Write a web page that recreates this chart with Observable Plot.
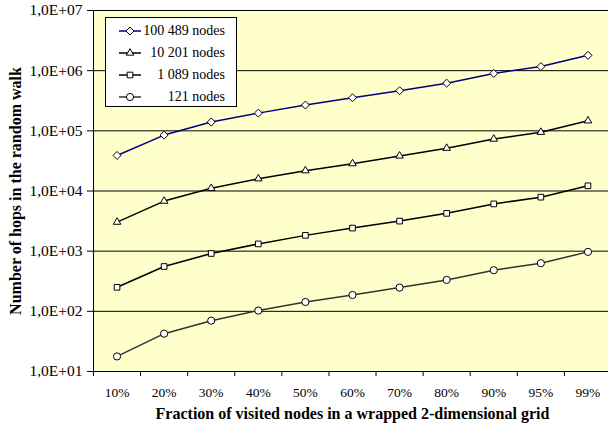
<!DOCTYPE html>
<html><head><meta charset="utf-8">
<script src="https://cdn.jsdelivr.net/npm/d3@7"></script>
<script src="https://cdn.jsdelivr.net/npm/@observablehq/plot@0.6"></script>
<style>
html,body{margin:0;padding:0;overflow:hidden;background:#fff;}
#wrap{position:relative;width:608px;height:434px;overflow:hidden;}
#wrap svg{max-width:none;}
.legend{position:absolute;left:105px;top:17px;width:130px;height:88px;border:1px solid #000;background:#fff;
  font-family:"Liberation Serif","Times New Roman",serif;font-size:14px;color:#000;}
.legend .row{position:absolute;left:0;right:0;height:22px;}
.legend .row svg{position:absolute;left:13px;top:5px;}
.legend .row span{position:absolute;right:11px;top:2px;line-height:18px;white-space:pre;}
</style></head><body><div id="wrap"></div>
<script>
const categories = ["10%","20%","30%","40%","50%","60%","70%","80%","90%","95%","99%"];
const seriesNames = ["100 489 nodes","10 201 nodes","1 089 nodes","121 nodes"];
const hops100489 = [39000, 85000, 140000, 197000, 268000, 355000, 464000, 620000, 900000, 1170000, 1800000];
const hops10201  = [3040, 6800, 11100, 16000, 21800, 28500, 38300, 51500, 73000, 95000, 147000];
const hops1089   = [251, 556, 916, 1320, 1830, 2420, 3160, 4250, 6100, 7900, 12200];
const hops121    = [17.8, 42.5, 70, 103, 143, 187, 248, 333, 482, 631, 973];
const yTicks = [1e1, 1e2, 1e3, 1e4, 1e5, 1e6, 1e7];
const xTitle = "Fraction of visited nodes in a wrapped 2-dimensional grid";
const yTitle = "Number of hops in the random walk";

const seriesValues = [hops100489, hops10201, hops1089, hops121];
const lineColors = ["#000080", "#000000", "#000000", "#333333"];
const symbols = ["diamond2", "triangle2", "square2", "circle"];

const data = [];
seriesNames.forEach((s, si) => {
  seriesValues[si].forEach((v, i) => data.push({series: s, idx: i + 0.5, cat: categories[i], value: v}));
});

const fmt = v => "1,0E+" + String(Math.round(Math.log10(v))).padStart(2, "0");

const chart = Plot.plot({
  width: 620, height: 434,
  marginLeft: 93, marginRight: 9, marginTop: 10, marginBottom: 63,
  style: {fontFamily: "'Liberation Serif','Times New Roman',serif", fontSize: "14px", background: "transparent", color: "#000"},
  x: {type: "linear", domain: [0, categories.length], axis: null},
  y: {type: "log", domain: [10, 1e7], axis: null},
  color: {domain: seriesNames, range: lineColors},
  symbol: {domain: seriesNames, range: symbols},
  marks: [
    Plot.frame({fill: "#ffffcc", stroke: "#808080"}),
    Plot.ruleY(yTicks, {stroke: "#000", strokeWidth: 1}),
    Plot.ruleX([0], {stroke: "#000", strokeWidth: 1}),
    Plot.axisY({ticks: yTicks, tickFormat: fmt, tickSize: 6, tickPadding: 5, fontSize: 15.5, label: null, stroke: "#000"}),
    Plot.axisX({ticks: d3.range(categories.length + 1), tickFormat: () => "", tickSize: 5, label: null, stroke: "#000"}),
    Plot.axisX({ticks: categories.map((c, i) => i + 0.5), tickFormat: v => categories[Math.floor(v)], tickSize: 0, tickPadding: 16, fontSize: 13.5, label: null}),
    Plot.line(data, {x: "idx", y: "value", z: "series", stroke: "series", strokeWidth: 1.5}),
    Plot.dot(data, {x: "idx", y: "value", symbol: "series", r: 3.6, fill: "#fff", stroke: "#000", strokeWidth: 1}),
    Plot.text([xTitle], {frameAnchor: "bottom", dy: 47, fontWeight: "bold", fontSize: 16}),
    Plot.text([yTitle], {frameAnchor: "left", textAnchor: "middle", dx: -78, rotate: -90, fontWeight: "bold", fontSize: 16})
  ]
});
const wrap = document.getElementById("wrap");
wrap.appendChild(chart);

// Legend
const legend = document.createElement("div");
legend.className = "legend";
const symMap = {diamond2: d3.symbolDiamond2, triangle2: d3.symbolTriangle2, square2: d3.symbolSquare2, circle: d3.symbolCircle};
seriesNames.forEach((s, i) => {
  const row = document.createElement("div");
  row.className = "row";
  row.style.top = (2 + i * 22) + "px";
  const path = d3.symbol(symMap[symbols[i]], Math.PI * 3.6 * 3.6)();
  row.innerHTML = `<svg width="22" height="12" viewBox="0 0 22 12"><line x1="0" x2="22" y1="6" y2="6" stroke="${lineColors[i]}" stroke-width="1.5"/><path d="${path}" transform="translate(11,6)" fill="#fff" stroke="#000"/></svg><span>${s}</span>`;
  legend.appendChild(row);
});
wrap.appendChild(legend);
</script></body></html>
